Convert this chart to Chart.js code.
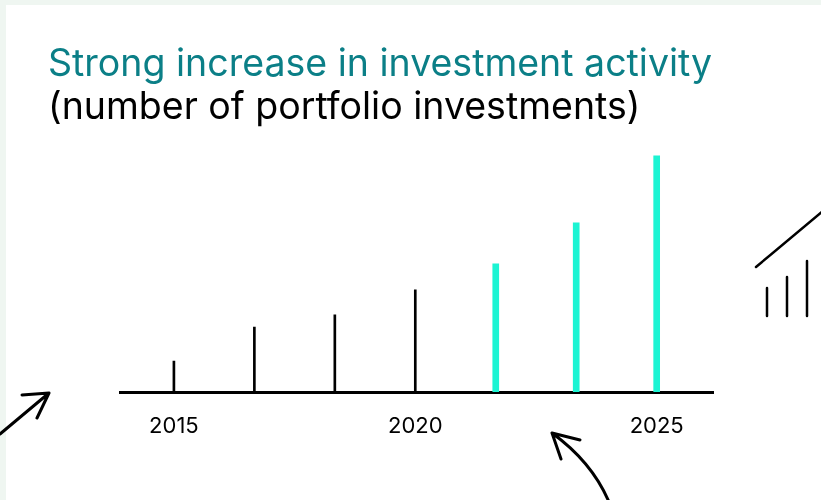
<!DOCTYPE html>
<html>
<head>
<meta charset="utf-8">
<script src="https://cdn.jsdelivr.net/npm/chart.js@4"></script>
<style>
  html, body { margin: 0; padding: 0; background: #eff6f1; }
  #wrap { position: relative; width: 821px; height: 500px; overflow: hidden; }
  #card { position: absolute; left: 6px; top: 5px; right: 0; bottom: 0; background: #fff; }
  #chart { position: absolute; left: 0; top: 0; }
  #deco { position: absolute; left: 0; top: 0; pointer-events: none; }
</style>
</head>
<body>
<div id="wrap">
  <div id="card"></div>
  <canvas id="chart" width="821" height="500"></canvas>
  <!-- hand-drawn decorations, not data -->
  <svg id="deco" width="821" height="500" fill="none" stroke="#000" stroke-linecap="round" stroke-linejoin="round">
    <path d="M0 434 L49 393 M22 395 L49 393 L37 418" stroke-width="3"/>
    <path d="M552 433 Q592 462 609 502 M580 440 L552 433 L561 459" stroke-width="3"/>
    <path d="M756 267 L823 211" stroke-width="2.5"/>
    <path d="M767 316 V288 M787 316 V277 M807 316 V261" stroke-width="2.5"/>
  </svg>
</div>
<script>
/* portfolio investments chart */
const yearLabels = ["2015", "", "", "2020", "", "", "2025"];
const investments = [31, 65, 77, 102, 128, 169, 236];
const highlightFrom = 4; // last three bars in mint

const titleText = "Strong increase in investment activity";
const subtitleText = "(number of portfolio investments)";

const points = investments.map((v, i) => ({ x: i, y: v }));

new Chart(document.getElementById("chart"), {
  type: "bar",
  data: {
    datasets: [
      {
        label: "earlier",
        data: points.slice(0, highlightFrom),
        backgroundColor: "#000",
        barThickness: 2,
        grouped: false,
      },
      {
        label: "recent",
        data: points.slice(highlightFrom),
        backgroundColor: "#1cf4d3",
        barThickness: 6,
        grouped: false,
      },
    ],
  },
  options: {
    responsive: false,
    animation: false,
    layout: { padding: { left: 48, right: 108, top: 0, bottom: 0 } },
    plugins: {
      legend: { display: false },
      tooltip: { enabled: false },
      title: {
        display: true,
        text: titleText,
        align: "start",
        color: "#0b7f87",
        font: { family: "Inter", size: 37.5, weight: "normal", lineHeight: 1.15 },
        padding: { top: 43, bottom: 0 },
      },
      subtitle: {
        display: true,
        text: subtitleText,
        align: "start",
        color: "#000",
        font: { family: "Inter", size: 37.5, weight: "normal", lineHeight: 1.15 },
        padding: { top: 0, bottom: 12.6 },
      },
    },
    scales: {
      x: {
        type: "linear",
        offset: false,
        min: -0.67,
        max: 6.7,
        grid: { display: false },
        border: { display: true, color: "#000", width: 3 },
        afterBuildTicks: (s) => { s.ticks = [0, 3, 6].map((v) => ({ value: v })); },
        afterFit: (s) => { s.height = 108; },
        ticks: {
          padding: 13,
          color: "#000",
          maxRotation: 0,
          font: { family: "Inter", size: 22 },
          callback: (v) => yearLabels[v] ?? "",
        },
      },
      y: {
        min: 0,
        max: 250,
        grid: { display: false },
        border: { display: false },
        ticks: { display: false },
        afterFit: (s) => { s.width = 72; },
      },
    },
  },
});
</script>
</body>
</html>
